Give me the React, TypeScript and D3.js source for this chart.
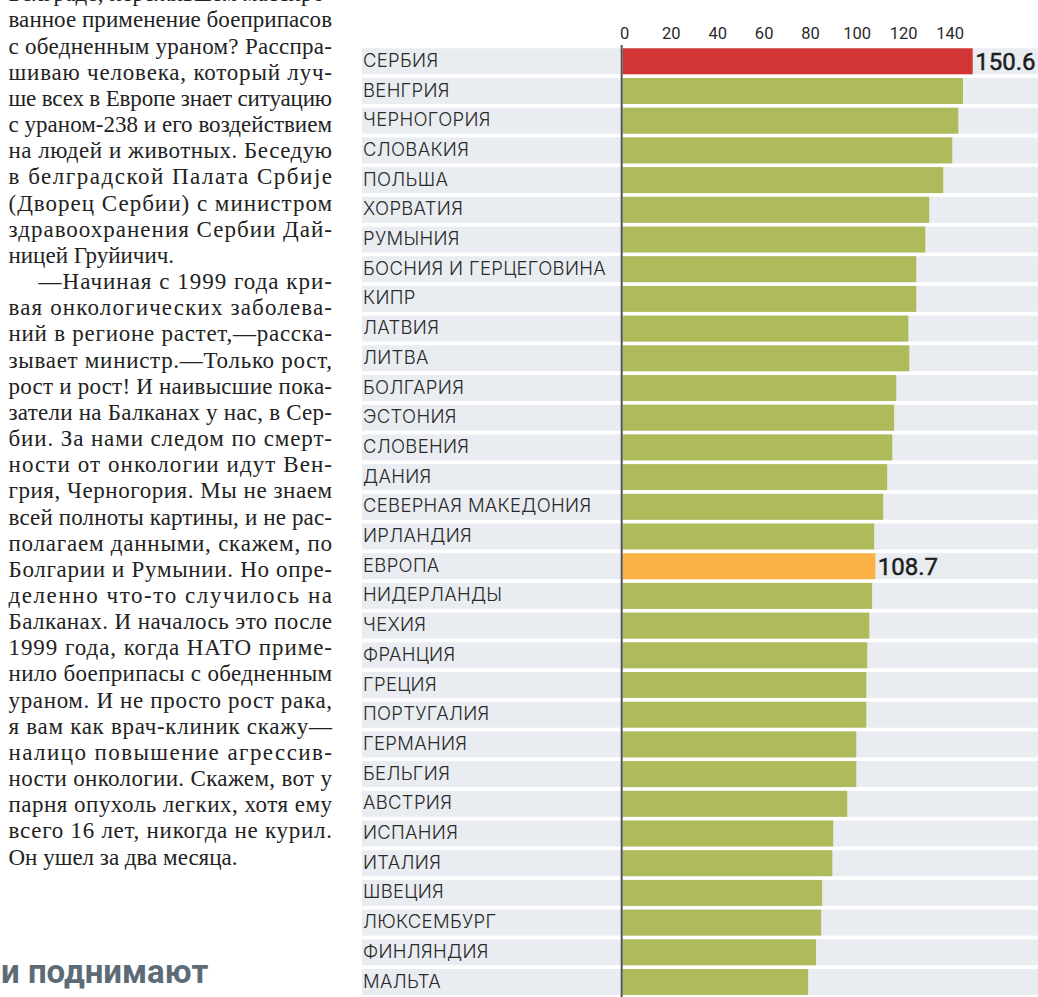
import React from 'react';
import * as d3 from 'd3';

// ---- chart data ----
const countries = [
  'СЕРБИЯ', 'ВЕНГРИЯ', 'ЧЕРНОГОРИЯ', 'СЛОВАКИЯ', 'ПОЛЬША', 'ХОРВАТИЯ', 'РУМЫНИЯ',
  'БОСНИЯ И ГЕРЦЕГОВИНА', 'КИПР', 'ЛАТВИЯ', 'ЛИТВА', 'БОЛГАРИЯ', 'ЭСТОНИЯ', 'СЛОВЕНИЯ',
  'ДАНИЯ', 'СЕВЕРНАЯ МАКЕДОНИЯ', 'ИРЛАНДИЯ', 'ЕВРОПА', 'НИДЕРЛАНДЫ', 'ЧЕХИЯ', 'ФРАНЦИЯ',
  'ГРЕЦИЯ', 'ПОРТУГАЛИЯ', 'ГЕРМАНИЯ', 'БЕЛЬГИЯ', 'АВСТРИЯ', 'ИСПАНИЯ', 'ИТАЛИЯ',
  'ШВЕЦИЯ', 'ЛЮКСЕМБУРГ', 'ФИНЛЯНДИЯ', 'МАЛЬТА',
];
const values = [
  150.6, 146.4, 144.4, 141.8, 137.9, 131.9, 130.2,
  126.3, 126.3, 122.9, 123.3, 117.7, 116.8, 116.0,
  113.8, 112.1, 108.2, 108.7, 107.3, 106.1, 105.2,
  104.8, 104.8, 100.5, 100.5, 96.6, 90.6, 90.2,
  85.8, 85.4, 83.2, 79.8,
];
const highlighted = ['СЕРБИЯ', 'ЕВРОПА'];
const highlightColors = ['#d13634', '#fbb144'];
const tickValues = [0, 20, 40, 60, 80, 100, 120, 140];

// ---- article text (left column) ----
const articleLines = [
  'Белграде, пережившем массиро-',
  'ванное применение боеприпасов',
  'с обедненным ураном? Расспра-',
  'шиваю человека, который луч-',
  'ше всех в Европе знает ситуацию',
  'с ураном-238 и его воздействием',
  'на людей и животных. Беседую',
  'в белградской Палата Србије',
  '(Дворец Сербии) с министром',
  'здравоохранения Сербии Дай-',
  'ницей Груйичич.',
  '—Начиная с 1999 года кри-',
  'вая онкологических заболева-',
  'ний в регионе растет,—расска-',
  'зывает министр.—Только рост,',
  'рост и рост! И наивысшие пока-',
  'затели на Балканах у нас, в Сер-',
  'бии. За нами следом по смерт-',
  'ности от онкологии идут Вен-',
  'грия, Черногория. Мы не знаем',
  'всей полноты картины, и не рас-',
  'полагаем данными, скажем, по',
  'Болгарии и Румынии. Но опре-',
  'деленно что-то случилось на',
  'Балканах. И началось это после',
  '1999 года, когда НАТО приме-',
  'нило боеприпасы с обедненным',
  'ураном. И не просто рост рака,',
  'я вам как врач-клиник скажу—',
  'налицо повышение агрессив-',
  'ности онкологии. Скажем, вот у',
  'парня опухоль легких, хотя ему',
  'всего 16 лет, никогда не курил.',
  'Он ушел за два месяца.',
];
const paragraphEnds = [10, 33];
const paragraphStarts = [11];
const headingText = 'и поднимают';

export default function App() {
  const W = 1038;
  const H = 997;

  const x = d3.scaleLinear().domain([0, 150.6]).range([622.7, 972.7]);
  const y = d3
    .scaleBand<string>()
    .domain(countries)
    .range([48.3, 995])
    .paddingInner(0.125)
    .paddingOuter(0);

  const rowLeft = 362;
  const green = '#afba5a';
  const rowBg = '#e9edf1';

  const lineBaseline = d3.scaleLinear().domain([0, 1]).range([1.3, 27.46]);

  return (
    <svg
      width={W}
      height={H}
      style={{ position: 'absolute', left: 0, top: 0, display: 'block', background: '#fff' }}
    >
      {/* article column */}
      <g fontFamily="'Liberation Serif', 'Times New Roman', serif" fontSize={23} fill="#222">
        {articleLines.map((t, i) => {
          const indent = paragraphStarts.includes(i) ? 30 : 0;
          const justify = !paragraphEnds.includes(i);
          const x0 = 8.5 + indent;
          return (
            <text
              key={i}
              x={x0}
              y={lineBaseline(i)}
              {...(justify ? { textLength: 332 - x0, lengthAdjust: 'spacing' } : {})}
            >
              {t}
            </text>
          );
        })}
      </g>
      <text
        x={1}
        y={983}
        fontFamily="Roboto, 'Open Sans', sans-serif"
        fontWeight={700}
        fontSize={33}
        fill="#5d6b77"
      >
        {headingText}
      </text>

      {/* chart */}
      <g>
        {countries.map((c) => (
          <rect
            key={'bg' + c}
            x={rowLeft}
            y={y(c)}
            width={W - rowLeft}
            height={y.bandwidth()}
            fill={rowBg}
          />
        ))}
        {countries.map((c, i) => {
          const hi = highlighted.indexOf(c);
          return (
            <rect
              key={'bar' + c}
              x={x(0)}
              y={y(c)}
              width={x(values[i]) - x(0)}
              height={y.bandwidth()}
              fill={hi >= 0 ? highlightColors[hi] : green}
            />
          );
        })}
        {countries.map((c) => (
          <text
            key={'lab' + c}
            x={rowLeft + 1}
            y={(y(c) as number) + 18.5}
            fontFamily="Inter, Roboto, sans-serif"
            fontWeight={300}
            fontSize={18.5}
            letterSpacing={0.3}
            fill="#2a2a2a"
          >
            {c}
          </text>
        ))}
        {countries.map((c, i) =>
          highlighted.includes(c) ? (
            <text
              key={'val' + c}
              x={x(values[i]) + 2.5}
              y={(y(c) as number) + 21.5}
              fontFamily="Roboto, sans-serif"
              fontWeight={400}
              fontSize={24}
              fill="#1e1e1e"
              stroke="#1e1e1e"
              strokeWidth={0.5}
            >
              {values[i].toFixed(1)}
            </text>
          ) : null
        )}
        <line x1={621.7} x2={621.7} y1={45} y2={H} stroke="#555" strokeWidth={2} />
        {tickValues.map((t) => (
          <text
            key={'t' + t}
            x={x(t) + 2}
            y={39}
            textAnchor="middle"
            fontFamily="Roboto, sans-serif"
            fontWeight={400}
            fontSize={16.5}
            fill="#2a2a2a"
          >
            {t}
          </text>
        ))}
      </g>
    </svg>
  );
}
